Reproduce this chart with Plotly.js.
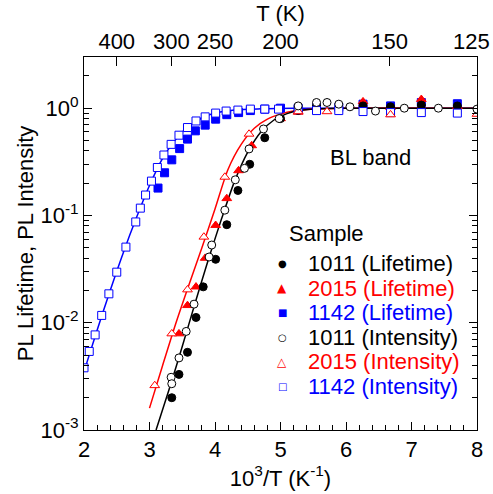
<!DOCTYPE html>
<html>
<head>
<meta charset="utf-8">
<script src="https://cdn.plot.ly/plotly-3.0.1.min.js"></script>
<style>html,body{margin:0;padding:0;background:#fff;}#chart{width:493px;height:494px;}</style>
</head>
<body>
<div id="chart"></div>
<script>
// ---------- data ----------
// x = 10^3/T (K^-1), y = normalised PL lifetime / intensity
const s1011LifeX = [3.34, 3.45, 3.58, 3.71, 3.82, 4.01, 4.18, 4.35, 4.53, 4.76, 5.00, 5.27, 5.55, 6.26, 6.68, 7.15, 7.70];
const s1011LifeY = [0.0020, 0.0033, 0.0053, 0.0112, 0.0216, 0.039, 0.082, 0.171, 0.30, 0.53, 0.80, 0.95, 1.05, 1.05, 1.03, 1.07, 1.05];

const s2015LifeX = [3.45, 3.58, 3.71, 3.85, 4.01, 4.18, 4.36, 4.56, 5.00, 5.27, 6.26, 6.68, 7.15, 7.70];
const s2015LifeY = [0.0079, 0.0145, 0.0216, 0.040, 0.081, 0.144, 0.262, 0.448, 0.80, 0.92, 1.15, 1.02, 1.21, 1.04];

const s1142LifeX = [3.13, 3.23, 3.34, 3.46, 3.58, 3.70, 3.85, 4.01, 4.18, 4.36, 4.54, 4.76, 5.00, 5.27, 5.55, 5.89, 6.26, 6.68, 7.15, 7.70];
const s1142LifeY = [0.18, 0.25, 0.33, 0.42, 0.515, 0.615, 0.695, 0.79, 0.87, 0.91, 0.95, 0.98, 1.0, 1.0, 1.02, 1.02, 1.09, 1.05, 1.13, 1.10];

const s1011IntX = [3.33, 3.34, 3.45, 3.56, 3.68, 3.91, 3.95, 4.15, 4.31, 4.45, 4.52, 4.74, 4.98, 5.27, 5.55, 5.71, 5.89, 6.06, 6.45, 6.89, 7.41, 8.00];
const s1011IntY = [0.0031, 0.0027, 0.0047, 0.0083, 0.0149, 0.041, 0.053, 0.112, 0.215, 0.275, 0.417, 0.64, 0.80, 1.05, 1.13, 1.13, 1.09, 1.03, 0.94, 1.0, 1.0, 0.98];

const s2015IntX = [3.08, 3.34, 3.58, 3.83, 4.15, 4.52, 5.27, 5.71, 6.68, 8.00];
const s2015IntY = [0.0026, 0.0079, 0.0203, 0.063, 0.228, 0.574, 0.93, 0.93, 0.87, 0.88];

const s1142IntX = [2.00, 2.08, 2.17, 2.27, 2.38, 2.50, 2.64, 2.79, 2.86, 2.94, 3.03, 3.12, 3.22, 3.33, 3.45, 3.58, 3.71, 3.85, 4.01, 4.17, 4.35, 4.54, 4.76, 4.97, 5.27, 5.55, 5.89, 6.26, 6.68, 7.15, 7.70];
const s1142IntY = [0.0038, 0.0054, 0.0077, 0.0117, 0.0186, 0.0296, 0.0507, 0.087, 0.117, 0.155, 0.209, 0.28, 0.366, 0.46, 0.56, 0.66, 0.76, 0.83, 0.90, 0.94, 0.96, 0.98, 0.98, 0.98, 0.97, 0.95, 0.95, 0.93, 0.91, 0.91, 0.90];

// fit curves
const fit1142X = [2.0, 2.2, 2.4, 2.6, 2.8, 3.0, 3.2, 3.4, 3.6, 3.8, 4.0, 4.3, 4.7, 5.2, 6.0, 8.0];
const fit1142Y = [0.0035, 0.0085, 0.020, 0.045, 0.095, 0.19, 0.34, 0.51, 0.68, 0.81, 0.90, 0.96, 0.986, 1.0, 1.0, 1.0];
const fit2015X = [3.0, 3.2, 3.4, 3.6, 3.8, 4.0, 4.2, 4.4, 4.6, 4.8, 5.0, 5.2, 5.5, 6.0, 8.0];
const fit2015Y = [0.0016, 0.0040, 0.0098, 0.0224, 0.050, 0.115, 0.27, 0.46, 0.65, 0.79, 0.88, 0.94, 0.98, 1.0, 1.0];
const fit1011X = [3.1, 3.3, 3.5, 3.7, 3.9, 4.1, 4.3, 4.5, 4.7, 4.9, 5.1, 5.3, 5.6, 6.0, 8.0];
const fit1011Y = [0.0010, 0.0024, 0.0060, 0.0155, 0.039, 0.093, 0.209, 0.389, 0.60, 0.776, 0.89, 0.955, 0.99, 1.0, 1.0];

// tick labels
const topTempTicks = [400, 300, 250, 200, 150, 125];
const yTickVals = [0.001, 0.01, 0.1, 1];
const yTickText = ['10<sup>-3</sup>', '10<sup>-2</sup>', '10<sup>-1</sup>', '10<sup>0</sup>'];

const legendNames = ['1011 (Lifetime)', '2015 (Lifetime)', '1142 (Lifetime)', '1011 (Intensity)', '2015 (Intensity)', '1142 (Intensity)'];
const legendGlyphs = ['\u25CF', '\u25B2', '\u25A0', '\u25CB', '\u25B3', '\u25A1'];

// ---------- styling ----------
const BLACK = '#000000', RED = '#ff0000', BLUE = '#0000ff';
const legendColors = [BLACK, RED, BLUE, BLACK, RED, BLUE];
const FS = 22;

function fitTrace(x, y, c) {
  return {x: x, y: y, type: 'scatter', mode: 'lines', line: {color: c, width: 1.5, shape: 'spline', smoothing: 0.8}, hoverinfo: 'skip', showlegend: false};
}
function markTrace(x, y, sym, c, filled, size) {
  return {x: x, y: y, type: 'scatter', mode: 'markers', showlegend: false,
    marker: {symbol: sym, size: size, color: filled ? c : '#ffffff', line: {color: c, width: 1}}};
}

const data = [
  fitTrace(fit1142X, fit1142Y, BLUE),
  fitTrace(fit2015X, fit2015Y, RED),
  fitTrace(fit1011X, fit1011Y, BLACK),
  markTrace(s1142LifeX, s1142LifeY, 'square', BLUE, true, 8),
  markTrace(s2015LifeX, s2015LifeY, 'triangle-up', RED, true, 8.5),
  markTrace(s1011LifeX, s1011LifeY, 'circle', BLACK, true, 8),
  markTrace(s1142IntX, s1142IntY, 'square', BLUE, false, 8),
  markTrace(s2015IntX, s2015IntY, 'triangle-up', RED, false, 8.5),
  markTrace(s1011IntX, s1011IntY, 'circle', BLACK, false, 8),
  {x: [], y: [], xaxis: 'x2', yaxis: 'y', type: 'scatter', mode: 'markers', showlegend: false, hoverinfo: 'skip'}
];

// plot area in px (for placing the text annotations)
const L = 84, R = 477, TOP = 57, BOT = 430;
const px2x = p => (p - L) / (R - L);
const py2y = p => (BOT - p) / (BOT - TOP);

// the last top-axis label sits at the right edge: draw it right-aligned so it stays inside the picture
const lastT = topTempTicks[topTempTicks.length - 1];
const topTickText = topTempTicks.map((t, i) => i === topTempTicks.length - 1 ? '' : String(t));

const annotations = [
  {text: String(lastT), xref: 'paper', yref: 'paper', x: px2x(492), y: py2y(42), xanchor: 'right', yanchor: 'middle', showarrow: false, font: {size: FS, color: BLACK}},
  {text: 'BL band', xref: 'paper', yref: 'paper', x: px2x(370), y: py2y(157), xanchor: 'center', yanchor: 'middle', showarrow: false, font: {size: FS, color: BLACK}},
  {text: 'Sample', xref: 'paper', yref: 'paper', x: px2x(287), y: py2y(233), xanchor: 'left', yanchor: 'middle', showarrow: false, font: {size: FS, color: BLACK}}
];
const rowY = [263.5, 288, 312.5, 337, 361.5, 386];
legendNames.forEach((n, i) => {
  annotations.push({text: legendGlyphs[i], xref: 'paper', yref: 'paper', x: px2x(282), y: py2y(rowY[i]), xanchor: 'center', yanchor: 'middle', showarrow: false,
    font: {family: 'DejaVu Sans', size: i === 1 || i === 4 ? 12 : 10, color: legendColors[i]}});
  annotations.push({text: n, xref: 'paper', yref: 'paper', x: px2x(306), y: py2y(rowY[i]), xanchor: 'left', yanchor: 'middle', showarrow: false,
    font: {size: FS, color: legendColors[i]}});
});

const layout = {
  width: 493, height: 494,
  margin: {l: L, r: 493 - R, t: TOP, b: 494 - BOT},
  paper_bgcolor: '#ffffff', plot_bgcolor: '#ffffff',
  showlegend: false,
  font: {family: 'Liberation Sans, Arial, sans-serif', size: FS, color: BLACK},
  xaxis: {
    range: [2, 8], tick0: 2, dtick: 1, ticks: 'inside', ticklen: 8, tickwidth: 1, tickcolor: BLACK,
    showline: true, linecolor: BLACK, linewidth: 1, mirror: true, showgrid: false, zeroline: false,
    minor: {dtick: 0.2, ticks: 'inside', ticklen: 5, tickwidth: 1, tickcolor: BLACK, showgrid: false},
    tickfont: {size: FS}, automargin: false, ticklabeloverflow: 'allow',
    title: {text: '10<sup>3</sup>/T (K<sup>-1</sup>)', font: {size: FS}, standoff: 4}
  },
  xaxis2: {
    overlaying: 'x', side: 'top', anchor: 'y', range: [2, 8],
    tickmode: 'array', tickvals: topTempTicks.map(t => 1000 / t), ticktext: topTickText,
    ticks: 'inside', ticklen: 9, tickwidth: 1, tickcolor: BLACK, ticklabelstandoff: 3,
    showline: false, showgrid: false, zeroline: false, tickfont: {size: FS}, automargin: false,
    title: {text: 'T (K)', font: {size: FS}, standoff: 0}
  },
  yaxis: {
    type: 'log', range: [-3, Math.log10(3)], tickmode: 'array', tickvals: yTickVals, ticktext: yTickText,
    ticks: 'inside', ticklen: 8, tickwidth: 1, tickcolor: BLACK,
    showline: true, linecolor: BLACK, linewidth: 1, mirror: 'ticks', showgrid: false, zeroline: false,
    minor: {dtick: 'D1', ticks: 'inside', ticklen: 5, tickwidth: 1, tickcolor: BLACK, showgrid: false},
    tickfont: {size: FS}, automargin: false,
    title: {text: 'PL Lifetime, PL Intensity', font: {size: FS}, standoff: 0}
  },
  annotations: annotations
};

Plotly.newPlot('chart', data, layout, {displayModeBar: false, staticPlot: true});
</script>
</body>
</html>
